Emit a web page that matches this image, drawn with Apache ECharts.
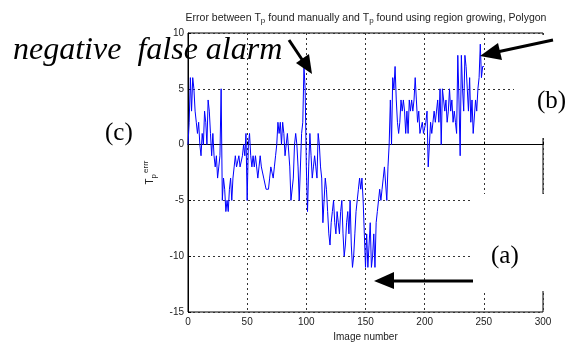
<!DOCTYPE html>
<html><head><meta charset="utf-8">
<script src="https://cdn.jsdelivr.net/npm/echarts@6/dist/echarts.min.js"></script>
<style>html,body{margin:0;padding:0;background:#fff}#c{width:573px;height:342px}</style>
</head><body><div id="c"></div>
<script>
// Error value (Tp err) per image number, starting at image 0
const tpErr = [
  0, 2, 6, 3, 6, 5, 3, 2, 1, 2, 0,
  -1, 1, 0, 3, 2, 0, 4, 3, 1, -1,
  1, -1, -2, -1, -3, -2, -1, 5, -5, -3,
  -4, -6, -5, -6, -4, -3, -5, -3, -2, -1,
  -2, -2, -1, -2, -2, -1, 0, -1, 1, -5,
  0, 1, -1, -2, -1, -2, -1, -2, -3, -2,
  -1, -2, -2, -3, -3, -4, -4, -4, -3, -2,
  -2, -3, -2, -1, 0, 2, 1, 2, 0, 2,
  1, -1, 0, 1, 1, -2, -5, -5, -3, 0,
  1, 0, -2, -5, -5, 1, 2, 7, 5, -2,
  -6, -2, 1, -1, -3, -2, -1, -2, -3, 1,
  0, -2, -3, -7, -5, -3, -4, -6, -8, -9,
  -7, -6, -5, -7, -8, -6, -7, -8, -6, -5,
  -8, -10, -9, -7, -6, -8, -5, -9, -11, -10,
  -8, -6, -5, -4, -3, -4, -3, -5, -5, -11,
  -8, -11, -9, -7, -11, -10, -8, -11, -7, -6,
  -5, -4, -5, -4, -3, -2, -2, -5, -2, 0,
  4, 0, 6, 5, 7, 4, 2, 1, 2, 4,
  3, 4, 3, 1, 3, 1, 4, 3, 4, 3,
  4, 6, 4, 2, 3, 1, 1, 2, 1, 1,
  2, 3, -2, 0, 2, 1, 2, 3, 2, 3,
  4, 2, 5, 0, 5, 5, 3, 4, 2, 3,
  5, 3, 4, 2, 3, 2, 1, 8, 4, -1,
  8, 5, 3, 8, 7, 5, 3, 6, 2, 4,
  1, 1, 4, 3, 5, 6, 9, 6, 7, 7
];
const imageNumber = tpErr.map((_, i) => i);
const xTicks = [0, 50, 100, 150, 200, 250, 300];
const yTicks = [-15, -10, -5, 0, 5, 10];

const chart = echarts.init(document.getElementById('c'));
const font = 'Liberation Sans, Arial, sans-serif';
const serif = 'Liberation Serif, Times New Roman, serif';
const gridLine = {show: true, lineStyle: {color: '#333', type: [2, 3], width: 1}};
chart.setOption({
  animation: false,
  backgroundColor: '#fff',
  title: {
    text: '{a|Error between T}{s|p}{a| found manually and T}{s|p}{a| found using region growing, Polygon}',
    left: 361, textAlign: 'center', top: 8,
    textStyle: {fontWeight: 'normal', rich: {
      a: {fontFamily: font, fontSize: 10.5, fontWeight: 'normal', color: '#222', verticalAlign: 'top', lineHeight: 12},
      s: {fontFamily: font, fontSize: 8, fontWeight: 'normal', color: '#222', verticalAlign: 'bottom', padding: [9, 0, 0, 0], lineHeight: 12}
    }}
  },
  grid: {left: 188, right: 30, top: 33, bottom: 30, show: true, borderColor: '#000', borderWidth: 1,
         containLabel: false, outerBoundsMode: 'none'},
  xAxis: {
    type: 'value', min: xTicks[0], max: xTicks[xTicks.length - 1], interval: 50,
    name: 'Image number', nameLocation: 'middle', nameGap: 20,
    nameTextStyle: {fontFamily: font, fontSize: 10, color: '#222'},
    axisLine: {lineStyle: {color: '#000', width: 1}},
    axisTick: {inside: true, length: 3, lineStyle: {color: '#000'}},
    axisLabel: {fontFamily: font, fontSize: 10, color: '#222', margin: 5},
    splitLine: gridLine
  },
  yAxis: {
    type: 'value', min: yTicks[0], max: yTicks[yTicks.length - 1], interval: 5,
    name: '{t|T}{s|p}{e|errr}', nameLocation: 'middle', nameGap: 30, nameRotate: 90,
    nameTextStyle: {rich: {
      t: {fontFamily: font, fontSize: 10, color: '#222'},
      s: {fontFamily: font, fontSize: 8, color: '#222', padding: [8, 0, 0, 0]},
      e: {fontFamily: font, fontSize: 8, color: '#222', padding: [0, 0, 8, 1]}
    }},
    axisLine: {lineStyle: {color: '#000', width: 1}},
    axisTick: {inside: true, length: 3, lineStyle: {color: '#000'}},
    axisLabel: {fontFamily: font, fontSize: 10, color: '#222', margin: 4},
    splitLine: gridLine
  },
  series: [{
    type: 'line', data: imageNumber.map((x, i) => [x, tpErr[i]]),
    showSymbol: false, symbol: 'none',
    lineStyle: {color: '#0000ff', width: 1}, z: 3
  }],
  graphic: [
    {type: 'rect', shape: {x: 514, y: 35, width: 60, height: 103}, style: {fill: '#fff'}, z: 100},
    {type: 'rect', shape: {x: 473, y: 194, width: 101, height: 97}, style: {fill: '#fff'}, z: 100},
    {type: 'text', left: 13, top: 35, style: {text: 'negative  false alarm', font: 'italic 32px ' + serif, fill: '#000'}, z: 101},
    {type: 'text', left: 105, top: 121, style: {text: '(c)', font: '25px ' + serif, fill: '#000'}, z: 101},
    {type: 'text', left: 537, top: 89, style: {text: '(b)', font: '25px ' + serif, fill: '#000'}, z: 101},
    {type: 'text', left: 491, top: 244, style: {text: '(a)', font: '25px ' + serif, fill: '#000'}, z: 101},
    {type: 'polyline', shape: {points: [[289, 40], [303, 61]]}, style: {stroke: '#000', lineWidth: 3}, z: 101},
    {type: 'polygon', shape: {points: [[312, 74], [296, 63], [309, 54]]}, style: {fill: '#000'}, z: 101},
    {type: 'polyline', shape: {points: [[553, 40], [497, 52]]}, style: {stroke: '#000', lineWidth: 3}, z: 101},
    {type: 'polygon', shape: {points: [[480, 56], [502, 60], [498, 43]]}, style: {fill: '#000'}, z: 101},
    {type: 'polyline', shape: {points: [[473, 281], [390, 281]]}, style: {stroke: '#000', lineWidth: 3}, z: 101},
    {type: 'polygon', shape: {points: [[374, 281], [394, 272], [394, 289]]}, style: {fill: '#000'}, z: 101}
  ]
});
</script></body></html>
